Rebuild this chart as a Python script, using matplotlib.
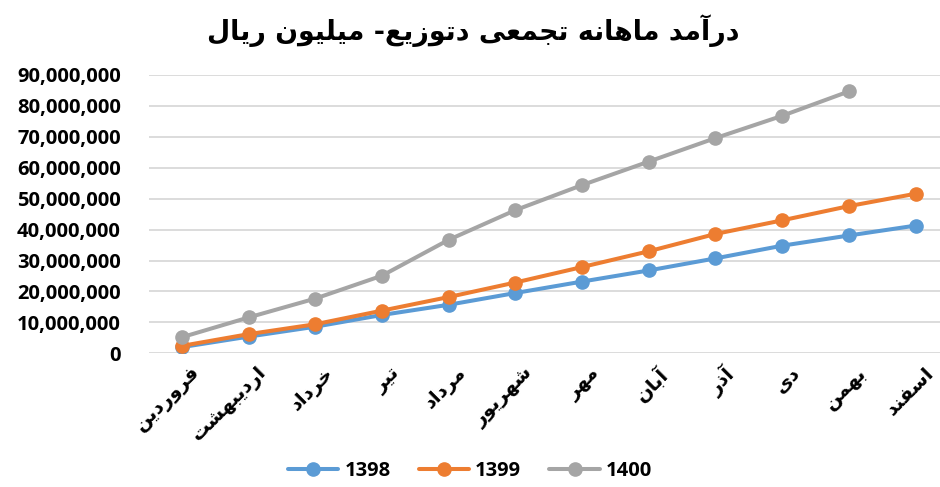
import numpy
import matplotlib
matplotlib.use('Agg')
import matplotlib.pyplot as plt
from matplotlib.ticker import FuncFormatter
import matplotlib.transforms as mtransforms

# data (cumulative monthly income, million rial)
months = ['فروردین', 'اردیبهشت', 'خرداد', 'تیر', 'مرداد', 'شهریور',
          'مهر', 'آبان', 'آذر', 'دی', 'بهمن', 'اسفند']
years = ['1398', '1399', '1400']
values_1398 = [2.0, 5.4, 8.6, 12.4, 15.7, 19.5, 23.2, 26.8, 30.7, 34.8, 38.1, 41.3]
values_1399 = [2.4, 6.2, 9.4, 13.8, 18.2, 22.9, 27.9, 33.0, 38.6, 43.0, 47.6, 51.6]
values_1400 = [5.2, 11.6, 17.7, 25.1, 36.7, 46.3, 54.4, 62.0, 69.6, 76.8, 84.7]
title_text = 'درآمد ماهانه تجمعی دتوزیع- میلیون ریال'

colors = {'1398': '#5B9BD5', '1399': '#ED7D31', '1400': '#A5A5A5'}

# arabic presentation forms: isolated, final, initial, medial
FORMS = {
    'ا': (0xFE8D, 0xFE8E), 'آ': (0xFE81, 0xFE82),
    'ب': (0xFE8F, 0xFE90, 0xFE91, 0xFE92), 'ت': (0xFE95, 0xFE96, 0xFE97, 0xFE98),
    'ج': (0xFE9D, 0xFE9E, 0xFE9F, 0xFEA0), 'خ': (0xFEA5, 0xFEA6, 0xFEA7, 0xFEA8),
    'د': (0xFEA9, 0xFEAA), 'ذ': (0xFEAB, 0xFEAC), 'ر': (0xFEAD, 0xFEAE),
    'ز': (0xFEAF, 0xFEB0), 'س': (0xFEB1, 0xFEB2, 0xFEB3, 0xFEB4),
    'ش': (0xFEB5, 0xFEB6, 0xFEB7, 0xFEB8), 'ع': (0xFEC9, 0xFECA, 0xFECB, 0xFECC),
    'ف': (0xFED1, 0xFED2, 0xFED3, 0xFED4), 'ل': (0xFEDD, 0xFEDE, 0xFEDF, 0xFEE0),
    'م': (0xFEE1, 0xFEE2, 0xFEE3, 0xFEE4), 'ن': (0xFEE5, 0xFEE6, 0xFEE7, 0xFEE8),
    'ه': (0xFEE9, 0xFEEA, 0xFEEB, 0xFEEC), 'و': (0xFEED, 0xFEEE),
    'ی': (0xFEEF, 0xFEF0, 0xFEF3, 0xFEF4),
}


def shape(text):
    # join letters with presentation forms, then reverse for RTL display
    out = []
    for i, ch in enumerate(text):
        if ch not in FORMS:
            out.append(ch)
            continue
        prev = text[i - 1] if i > 0 else ''
        nxt = text[i + 1] if i + 1 < len(text) else ''
        join_prev = prev in FORMS and len(FORMS[prev]) == 4
        join_next = len(FORMS[ch]) == 4 and nxt in FORMS
        f = FORMS[ch]
        if join_prev and join_next:
            out.append(chr(f[3]))
        elif join_prev:
            out.append(chr(f[1]))
        elif join_next:
            out.append(chr(f[2]))
        else:
            out.append(chr(f[0]))
    return ''.join(out)[::-1]


plt.rcParams['font.family'] = ['Open Sans', 'DejaVu Sans']

fig = plt.figure(figsize=(9.4, 4.87), dpi=100)
ax = fig.add_axes([0.158, 0.2745, 0.8515, 0.5715])

x = numpy.arange(len(months))
series = [('1398', values_1398), ('1399', values_1399), ('1400', values_1400)]
for z, (name, vals) in enumerate(series):
    xs = x[:len(vals)]
    ax.plot(xs, numpy.array(vals) * 1e6, color=colors[name], linewidth=2.9,
            marker='o', markersize=9.5, label=name, zorder=3 + z,
            solid_capstyle='round')

ax.set_xlim(-0.5, 11.5)
ax.set_ylim(0, 90e6)
ax.set_yticks(numpy.arange(0, 90e6 + 1, 10e6))
ax.yaxis.set_major_formatter(FuncFormatter(lambda v, p: f'{int(v):,}'))
ax.grid(axis='y', color='#D9D9D9', linewidth=1.3)
ax.set_axisbelow(True)
for s in ax.spines.values():
    s.set_visible(False)
ax.tick_params(axis='y', length=0, pad=20, labelsize=14.5)
ax.tick_params(axis='x', length=0, pad=7)
for lab in ax.get_yticklabels():
    lab.set_fontweight('bold')

ax.set_xticks(x)
ax.set_xticklabels([shape(m) for m in months], rotation=45, ha='right',
                   va='top', rotation_mode='anchor', fontsize=14,
                   fontweight='bold', family=['DejaVu Sans'])
offset = mtransforms.ScaledTranslation(8 / 100, 0, fig.dpi_scale_trans)
for lab in ax.get_xticklabels():
    lab.set_transform(lab.get_transform() + offset)

fig.text(0.503, 0.938, shape(title_text), ha='center', va='center',
         fontsize=19.3, fontweight='bold', family=['DejaVu Sans'])

leg = fig.legend(loc='center', bbox_to_anchor=(0.5, 0.033), ncol=3,
                 frameon=False, handlelength=2.5, columnspacing=1.4,
                 handletextpad=0.3, prop={'weight': 'bold', 'size': 14.5})

plt.savefig('out.png', dpi=100)
